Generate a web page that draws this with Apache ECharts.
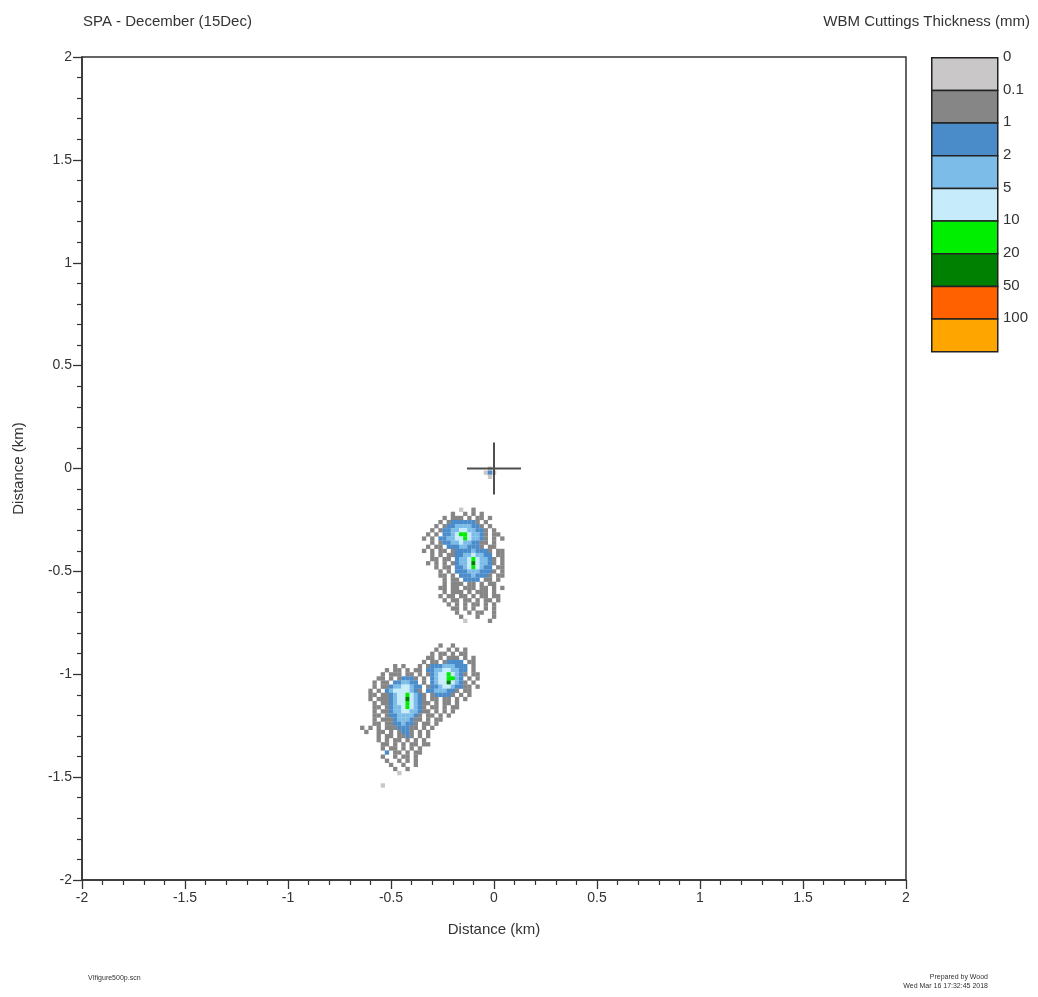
<!DOCTYPE html>
<html><head><meta charset="utf-8">
<script src="https://cdn.jsdelivr.net/npm/echarts@6/dist/echarts.min.js"></script>
<style>html,body{margin:0;padding:0;background:#fff}#c{width:1038px;height:997px}</style>
</head><body><div id="c"></div>
<script>
// ---- data ----
const chartTitle = 'SPA - December (15Dec)';
const legendTitle = 'WBM Cuttings Thickness (mm)';
const levelLabels = ['0', '0.1', '1', '2', '5', '10', '20', '50', '100'];
const classColors = ['#c9c7c7', '#868686', '#4a8bca', '#7bbce8', '#c6ecfb', '#00ee00', '#008000', '#ff6000', '#ffa500'];
const axisMin = -2, axisMax = 2, axisStep = 0.5;
const cellStep = 0.02; // km per grid cell
// class index per cell: '.' none, '0' 0-0.1, '1' 0.1-1, '2' 1-2, '3' 2-5, '4' 5-10, '5' 10-20, '6' 20-50
const upperOrigin = [-0.36, -0.20];
const upperRows = [
  "..........0..1........",
  "........1..1.1.1......",
  "......1.111.1.11.1....",
  ".....1.12222221.1.....",
  "....1.1223333221.1....",
  "...1.122334433221.1...",
  "..1.1.22345543321.11..",
  ".1.1.223344543321.1.1.",
  "...1.122334332211.1...",
  "..1.11.222332221.11...",
  ".1.1.11.1222232221.11.",
  "...1.1.11223343322.11.",
  "...11.11.2334543321.1.",
  "..1.1.1.12334643321.1.",
  "....1.11.223454322.11.",
  ".....1.1.2223332221.1.",
  ".....11.1.22232221.11.",
  "......1.11.2222.11.1..",
  "......1.111.11.1.11...",
  ".....11.11.111.11.1.1.",
  "......1.111.1.111.1...",
  ".....1.11.11.1.11.11..",
  "......1.11.11.1.11.1..",
  ".......1.1.1.11.1.1...",
  "........11.1.1..1.1...",
  ".........1..1.11..1...",
  "..........1...1...1...",
  "...........0.....1...."
];
const lowerOrigin = [-0.64, -0.86];
const lowerRows = [
  "...................1..1.......",
  "..................1..1.1.1....",
  ".................1.11.1.11....",
  "................11.1.111.1.1..",
  "...............1.11.12222.11..",
  "........1.1...1.1222333222.1..",
  "......1.11.1.11.2233443322.1..",
  ".....1.111.11.1.1234454321.11.",
  "....11.1.12221.1.23445532.1.1.",
  "...1.11.223322.1.234464321.1..",
  "...1.1123344322.12234432211.1.",
  "..1.1.234444321.22333221.11...",
  "..11.11234454321.122221.1.1...",
  "..1.111234464321.11.11.1.1....",
  "...1.112344543211.1.11.1......",
  "...11.1233454321.11.1.11......",
  "...1.112334433211.1.1.1.......",
  "...11.122333321.11.1.1........",
  "...1.1112333211.1.11..........",
  "...11.11223221.11.1...........",
  "1.1.1.11122211.1.1............",
  ".1..11.1.1221.1.1.............",
  "....1.11.1121.1.1.............",
  "....1.1.11.1.1.1..............",
  ".....11.1.1.11.11.............",
  ".....1.11.1.1.1...............",
  "......2.11.1.11...............",
  ".....1..1.11.1................",
  "......1..1.1.1................",
  ".......1..1..1................",
  "........1..1..................",
  ".........0....................",
  "..............................",
  "..............................",
  ".....0........................"
];
const wellOrigin = [-0.04, 0.0];
const wellRows = [
  ".0.",
  "020",
  ".0."
];
const wellSite = [[0, 0]];
const footLeft = 'VIfigure500p.scn';
const footRight1 = 'Prepared by Wood';
const footRight2 = 'Wed Mar 16 17:32:45 2018';

// ---- build cells ----
function cellsFrom(origin, rows) {
  const out = [];
  rows.forEach((row, j) => {
    for (let i = 0; i < row.length; i++) {
      const ch = row[i];
      if (ch === '.') continue;
      out.push([+(origin[0] + i * cellStep).toFixed(4), +(origin[1] - j * cellStep).toFixed(4), +ch]);
    }
  });
  return out;
}
const cells = [].concat(
  cellsFrom(upperOrigin, upperRows),
  cellsFrom(lowerOrigin, lowerRows),
  cellsFrom(wellOrigin, wellRows)
);

const FONT = 'Liberation Sans';
const TXT = '#333';
const chart = echarts.init(document.getElementById('c'), null, { renderer: 'canvas' });

// legend graphic
const legX = 931, legY = 57, legW = 66, legH = 294;
const rowH = legH / levelLabels.length;
const legendGraphics = [];
levelLabels.forEach((lab, k) => {
  legendGraphics.push({
    type: 'rect', left: legX, top: legY + k * rowH,
    shape: { width: legW, height: rowH },
    style: { fill: classColors[k], stroke: '#222', lineWidth: 1.5 }
  });
  legendGraphics.push({
    type: 'text', x: legX + legW + 6, y: legY + k * rowH,
    style: { text: lab, fill: TXT, font: '15px ' + FONT, textVerticalAlign: 'middle' }
  });
});

const axisCommon = {
  type: 'value', min: axisMin, max: axisMax, interval: axisStep,
  axisLine: { show: true, onZero: false, lineStyle: { color: '#333', width: 1.5 } },
  axisTick: { show: true, length: 9, lineStyle: { color: '#333', width: 1.3 } },
  minorTick: { show: true, splitNumber: 5, length: 5, lineStyle: { color: '#333', width: 1.2 } },
  splitLine: { show: false },
  axisLabel: { color: TXT, fontSize: 14, fontFamily: FONT },
  nameLocation: 'middle',
  nameTextStyle: { color: TXT, fontSize: 15, fontFamily: FONT }
};

chart.setOption({
  animation: false,
  backgroundColor: '#fff',
  title: [
    { text: chartTitle, left: 78, top: 9, textStyle: { color: TXT, fontSize: 15, fontWeight: 'normal', fontFamily: FONT } },
    { text: legendTitle, right: 3, top: 9, textStyle: { color: TXT, fontSize: 15, fontWeight: 'normal', fontFamily: FONT } }
  ],
  grid: { left: 82, top: 57, width: 824, height: 823, show: true, borderColor: '#333', borderWidth: 1.5, backgroundColor: 'transparent' },
  xAxis: Object.assign({}, axisCommon, { name: 'Distance (km)', nameGap: 42, axisLabel: Object.assign({}, axisCommon.axisLabel, { margin: 11 }) }),
  yAxis: Object.assign({}, axisCommon, { name: 'Distance (km)', nameGap: 56, axisLabel: Object.assign({}, axisCommon.axisLabel, { margin: 10 }) }),
  series: [
    {
      type: 'custom',
      data: cells,
      encode: { x: 0, y: 1 },
      renderItem: function (params, api) {
        const p = api.coord([api.value(0), api.value(1)]);
        const s = api.size([cellStep, cellStep]);
        return {
          type: 'rect',
          shape: { x: p[0] - s[0] / 2, y: p[1] - s[1] / 2, width: s[0] + 0.2, height: s[1] + 0.2 },
          style: { fill: classColors[api.value(2)] }
        };
      },
      silent: true, z: 2
    },
    {
      type: 'scatter',
      data: wellSite,
      symbol: 'path://M0,25H54V27H0Z M26,0H28V52H26Z',
      symbolSize: [54, 52],
      itemStyle: { color: '#222' },
      silent: true, z: 3
    }
  ],
  graphic: legendGraphics.concat([
    { type: 'text', x: 88, y: 975, style: { text: footLeft, fill: TXT, font: '7px ' + FONT } },
    { type: 'text', x: 988, y: 974, style: { text: footRight1, fill: TXT, font: '7px ' + FONT, textAlign: 'right' } },
    { type: 'text', x: 988, y: 983, style: { text: footRight2, fill: TXT, font: '7px ' + FONT, textAlign: 'right' } }
  ])
});
</script>
</body></html>
